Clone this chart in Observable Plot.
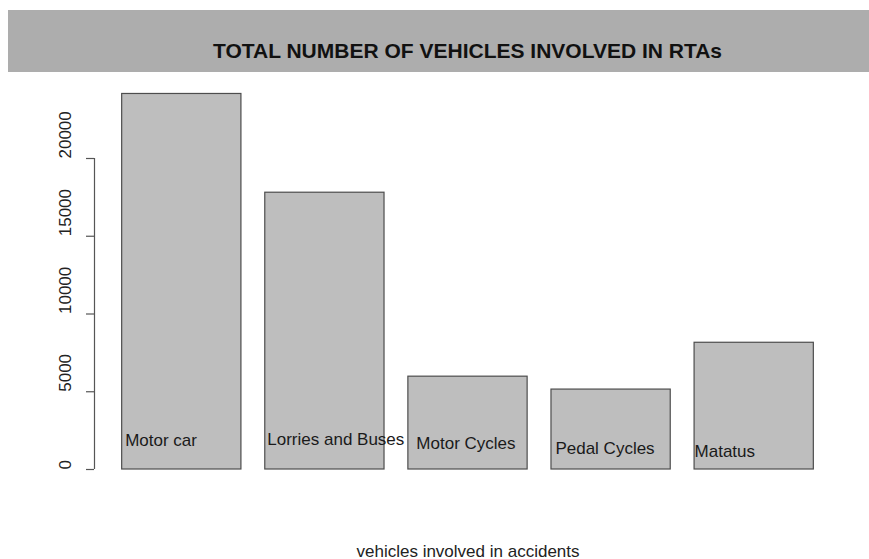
<!DOCTYPE html>
<html>
<head>
<meta charset="utf-8">
<script src="https://cdn.jsdelivr.net/npm/d3@7"></script>
<script src="https://cdn.jsdelivr.net/npm/@observablehq/plot@0.6"></script>
<style>
  html, body { margin: 0; padding: 0; background: #ffffff; }
  body { width: 869px; height: 559px; overflow: hidden; font-family: "Liberation Sans", Arial, sans-serif; }
  #band { position: absolute; left: 8px; top: 10px; width: 861px; height: 62px; background: #adadad; }
  #title { position: absolute; left: 86px; top: 30px; width: 747px; line-height: 22px; text-align: center;
           font-weight: bold; font-size: 21px; color: #111; white-space: nowrap; }
  #chart { position: absolute; left: 0; top: 72px; }
</style>
</head>
<body>
<div id="band"><div id="title"></div></div>
<div id="chart"></div>
<script>
const titleText = "TOTAL NUMBER OF VEHICLES INVOLVED IN RTAs";
const xLabel = "vehicles involved in accidents";
const categories = ["Motor car", "Lorries and Buses", "Motor Cycles", "Pedal Cycles", "Matatus"];
const values = [24150, 17800, 5970, 5140, 8150];
const labelX = [0.225, 1.417, 2.667, 3.833, 5.0];
const labelY = [1860, 1930, 1670, 1350, 1160];
const yTicks = [0, 5000, 10000, 15000, 20000];

// R barplot layout: width 1, space 0.2
const barWidth = 1, space = 0.2;
const table = categories.map((c, i) => ({
  category: c,
  value: values[i],
  x1: space + i * (barWidth + space),
  x2: space + i * (barWidth + space) + barWidth,
  lx: labelX[i],
  ly: labelY[i]
}));
const xLo = table[0].x1, xHi = table[table.length - 1].x2;
const xPad = 0.04 * (xHi - xLo);
const xDomain = [xLo - xPad, xHi + xPad];

document.getElementById("title").textContent = titleText;

const plot = Plot.plot({
  width: 869,
  height: 487,
  marginLeft: 94,
  marginRight: 28,
  marginTop: 0,
  marginBottom: 90,
  style: { fontFamily: "'Liberation Sans', Arial, sans-serif", fontSize: "17px", background: "transparent", overflow: "visible" },
  x: { domain: xDomain, axis: null },
  y: { domain: [0, 20000], range: [397, 86], axis: null },
  marks: [
    Plot.rect(table, { x1: "x1", x2: "x2", y1: 0, y2: "value", fill: "#bebebe", stroke: "#4d4d4d", strokeWidth: 1.2 }),
    Plot.ruleX([xDomain[0]], { x: d => d, y1: 0, y2: 20000, stroke: "#555", strokeWidth: 1.2 }),
    Plot.axisY(yTicks, { anchor: "left", tickSize: 8, tickFormat: () => "", label: null, stroke: "#555", strokeWidth: 1.2 }),
    Plot.text(yTicks, { y: d => d, text: d => String(d), frameAnchor: "left", dx: -29, rotate: -90, fill: "#222", fontSize: 17 }),
    Plot.text(table, { x: "lx", y: "ly", text: "category", textAnchor: "start", fill: "#1a1a1a", fontSize: 17 }),
    Plot.text([xLabel], { text: d => d, frameAnchor: "bottom", dy: 87, fill: "#222", fontSize: 17 })
  ]
});
document.getElementById("chart").appendChild(plot);
</script>
</body>
</html>
